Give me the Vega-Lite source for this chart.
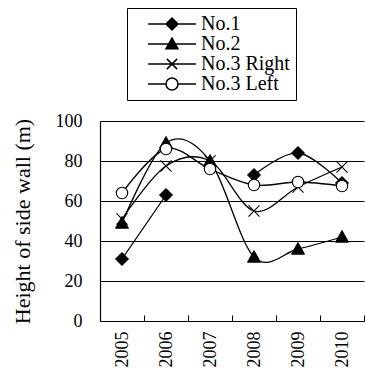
{
  "$schema": "https://vega.github.io/schema/vega-lite/v6.json",
  "width": 264,
  "height": 200,
  "autosize": "none",
  "padding": {"left": 100, "top": 121, "right": 2, "bottom": 59},
  "background": "white",
  "config": {
    "font": "Liberation Serif",
    "view": {"stroke": null},
    "axis": {"labelFont": "Liberation Serif", "titleFont": "Liberation Serif", "labelColor": "black", "titleColor": "black", "domainColor": "black", "tickColor": "black", "gridColor": "black", "gridOpacity": 1, "domainWidth": 1.2}
  },
  "data": {
    "values": [
      {"year": "2005", "series": "No.1", "h": 31},
      {"year": "2006", "series": "No.1", "h": 63},
      {"year": "2007", "series": "No.1", "h": null},
      {"year": "2008", "series": "No.1", "h": 73},
      {"year": "2009", "series": "No.1", "h": 84},
      {"year": "2010", "series": "No.1", "h": 69},
      {"year": "2005", "series": "No.2", "h": 49},
      {"year": "2006", "series": "No.2", "h": 89},
      {"year": "2007", "series": "No.2", "h": 80},
      {"year": "2008", "series": "No.2", "h": 32},
      {"year": "2009", "series": "No.2", "h": 36},
      {"year": "2010", "series": "No.2", "h": 42},
      {"year": "2005", "series": "No.3 Right", "h": 51},
      {"year": "2006", "series": "No.3 Right", "h": 77.5},
      {"year": "2007", "series": "No.3 Right", "h": 80},
      {"year": "2008", "series": "No.3 Right", "h": 55},
      {"year": "2009", "series": "No.3 Right", "h": 67},
      {"year": "2010", "series": "No.3 Right", "h": 77},
      {"year": "2005", "series": "No.3 Left", "h": 64},
      {"year": "2006", "series": "No.3 Left", "h": 86},
      {"year": "2007", "series": "No.3 Left", "h": 76},
      {"year": "2008", "series": "No.3 Left", "h": 68},
      {"year": "2009", "series": "No.3 Left", "h": 69.5},
      {"year": "2010", "series": "No.3 Left", "h": 67.5}
    ]
  },
  "encoding": {
    "x": {
      "field": "year", "type": "ordinal", "title": null,
      "scale": {"paddingInner": 0, "paddingOuter": 0},
      "axis": {"labelAngle": -90, "labelFontSize": 18, "labelPadding": 16, "tickBand": "extent", "tickSize": -6, "domainWidth": 1.2, "labelBaseline": "middle", "labelAlign": "right"}
    },
    "y": {
      "field": "h", "type": "quantitative", "title": "Height of side wall (m)",
      "scale": {"domain": [0, 100]},
      "axis": {"values": [0, 20, 40, 60, 80, 100], "ticks": false, "labelFontSize": 18, "labelPadding": 18, "titleFontSize": 22, "titleFontWeight": "normal", "titlePadding": 21, "gridWidth": 1}
    }
  },
  "layer": [
    {
      "mark": {"type": "line", "interpolate": "cardinal", "color": "black", "strokeWidth": 1.3},
      "encoding": {"detail": {"field": "series"}}
    },
    {
      "transform": [{"filter": "datum.h > 1000"}],
      "mark": {"type": "point", "filled": true, "stroke": "black", "strokeWidth": 1.2, "size": 144, "opacity": 1},
      "encoding": {
        "shape": {
          "field": "series",
          "scale": {
            "domain": ["No.1", "No.2", "No.3 Right", "No.3 Left"],
            "range": ["M-4,0L4,0M0,-1L1,0L0,1L-1,0Z", "M-4,0L4,0M0,-1L1,0.8L-1,0.8Z", "M-4,0L4,0M-0.85,-0.85L0.85,0.85M-0.85,0.85L0.85,-0.85", "M-4,0L-1,0M1,0L4,0M1,0A1,1 0 1 1 -1,0A1,1 0 1 1 1,0Z"]
          },
          "legend": {
            "title": null,
            "orient": "none",
            "legendX": 27,
            "legendY": -113,
            "padding": 6,
            "strokeColor": "black",
            "fillColor": "white",
            "labelFont": "Liberation Serif",
            "labelFontSize": 20,
            "labelColor": "black",
            "labelOffset": 19,
            "symbolOffset": 29,
            "symbolSize": 144,
            "rowPadding": -3,
            "labelBaseline": "middle",
            "labelExpr": "datum.label + '\u00a0\u00a0\u00a0\u00a0\u00a0\u00a0\u00a0\u00a0'"
          }
        },
        "fill": {
          "field": "series",
          "scale": {"domain": ["No.1", "No.2", "No.3 Right", "No.3 Left"], "range": ["black", "black", "transparent", "white"]},
          "legend": null
        }
      }
    },
    {
      "transform": [{"filter": "datum.series === 'No.1'"}],
      "mark": {"type": "point", "shape": "M0,-1L1,0L0,1L-1,0Z", "filled": true, "fill": "black", "stroke": "black", "strokeWidth": 1, "size": 169, "opacity": 1}
    },
    {
      "transform": [{"filter": "datum.series === 'No.2'"}],
      "mark": {"type": "point", "shape": "M0,-1L1,0.8L-1,0.8Z", "filled": true, "fill": "black", "stroke": "black", "strokeWidth": 1, "size": 169, "opacity": 1}
    },
    {
      "transform": [{"filter": "datum.series === 'No.3 Right'"}],
      "mark": {"type": "point", "shape": "M-0.85,-0.85L0.85,0.85M-0.85,0.85L0.85,-0.85", "filled": false, "stroke": "black", "strokeWidth": 1.1, "size": 169, "opacity": 1}
    },
    {
      "transform": [{"filter": "datum.series === 'No.3 Left'"}],
      "mark": {"type": "point", "shape": "circle", "filled": true, "fill": "white", "stroke": "black", "strokeWidth": 1.1, "size": 130, "opacity": 1}
    }
  ]
}
